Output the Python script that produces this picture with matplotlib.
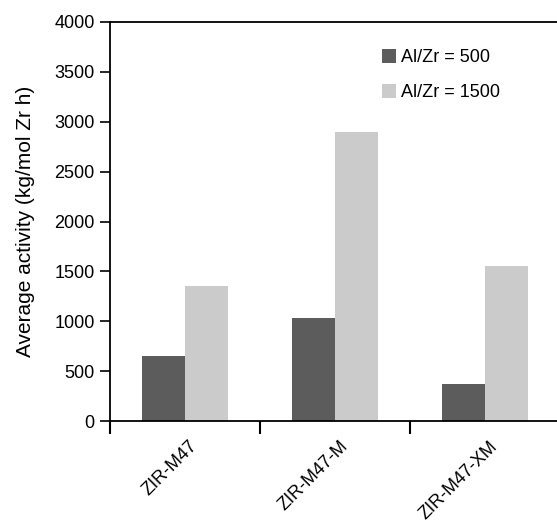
import matplotlib
matplotlib.use("Agg")
import matplotlib.pyplot as plt
import matplotlib.transforms as mtransforms
import numpy as np

# data
samples = ["ZIR-M47", "ZIR-M47-M", "ZIR-M47-XM"]
al500 = [650, 1030, 370]
al1500 = [1350, 2900, 1550]
series_labels = ["Al/Zr = 500", "Al/Zr = 1500"]

plt.rcParams["font.family"] = ["Liberation Sans", "DejaVu Sans"]

fig = plt.figure(figsize=(5.57, 5.23), dpi=100)
# the axes runs past the right edge of the picture, as in the original
ax = fig.add_axes([110 / 557, 1 - 421 / 523, 450 / 557, 399 / 523])

x = np.arange(len(samples)) + 0.5
width = 0.285
ax.bar(x - width / 2, al500, width, color="#5c5c5c", label=series_labels[0])
ax.bar(x + width / 2, al1500, width, color="#cbcbcb", label=series_labels[1])

ax.set_xlim(0, 3)
ax.set_ylim(0, 4000)
ax.set_yticks(np.arange(0, 4001, 500))
ax.tick_params(axis="y", direction="out", length=7, width=1.2, labelsize=13, pad=4)

# major ticks at category boundaries, labels on minor ticks at centres
ax.set_xticks([0, 1, 2])
ax.set_xticklabels([])
ax.tick_params(axis="x", which="major", direction="out", length=9, width=1.5)
ax.set_xticks(x, minor=True)
ax.set_xticklabels(samples, minor=True, rotation=45, ha="right",
                   rotation_mode="anchor", fontsize=13)
ax.tick_params(axis="x", which="minor", length=0, pad=12)
offset = mtransforms.ScaledTranslation(4 / 100, 0, fig.dpi_scale_trans)
for lab in ax.get_xticklabels(minor=True):
    lab.set_transform(lab.get_transform() + offset)

for s in ["left", "bottom", "top"]:
    ax.spines[s].set_linewidth(1.3)
ax.spines["right"].set_visible(False)

ax.set_ylabel("Average activity (kg/mol Zr h)", fontsize=15, labelpad=14)

ax.legend(loc="upper left", bbox_to_anchor=(366 / 557, 1 - 33 / 523),
          bbox_transform=fig.transFigure, frameon=False, fontsize=13,
          handlelength=0.75, handleheight=0.75, handletextpad=0.3,
          labelspacing=1.0)

plt.savefig("out.png", dpi=100)
